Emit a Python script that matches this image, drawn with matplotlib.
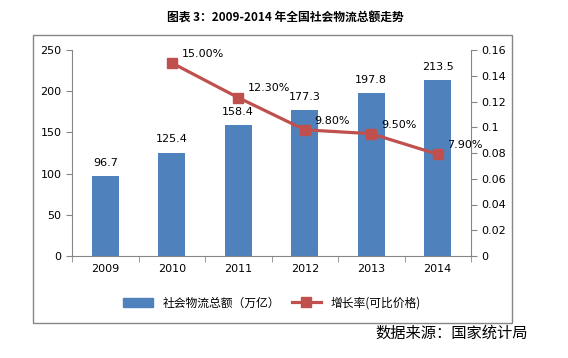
import matplotlib
matplotlib.use('Agg')
import matplotlib.pyplot as plt
from matplotlib.patches import Rectangle
from matplotlib.lines import Line2D
from matplotlib.patches import Patch

plt.rcParams['font.family'] = ['DejaVu Sans', 'Noto Sans CJK SC']

years = ['2009', '2010', '2011', '2012', '2013', '2014']
totals = [96.7, 125.4, 158.4, 177.3, 197.8, 213.5]
rate_years = ['2010', '2011', '2012', '2013', '2014']
rates = [0.15, 0.123, 0.098, 0.095, 0.079]
rate_labels = ['15.00%', '12.30%', '9.80%', '9.50%', '7.90%']

bar_color = '#4F81BD'
line_color = '#C0504D'
axis_gray = '#868686'

fig = plt.figure(figsize=(5.68, 3.58), dpi=100)
ax = fig.add_axes([72 / 568, 1 - 256 / 358, (471 - 72) / 568, (256 - 50) / 358])

x = list(range(len(years)))
ax.bar(x, totals, width=0.4, color=bar_color, zorder=2)
ax.set_xlim(-0.5, len(years) - 0.5)
ax.set_ylim(0, 250)
ax.set_yticks(range(0, 251, 50))
ax.set_xticks(x)
ax.set_xticklabels(years)
ax.set_xticks([i - 0.5 for i in range(len(years) + 1)], minor=True)
ax.tick_params(axis='x', which='major', length=0, labelsize=8, pad=6)
ax.tick_params(axis='x', which='minor', length=4, color=axis_gray)
ax.tick_params(axis='y', length=4, color=axis_gray, labelsize=8)
for v, t in zip(x, totals):
    ax.annotate(f'{t}', (v, t), xytext=(0, 6), textcoords='offset points',
                ha='center', va='bottom', fontsize=8)

ax2 = ax.twinx()
rx = [years.index(y) for y in rate_years]
ax2.plot(rx, rates, color=line_color, linewidth=2.3, marker='s', markersize=7, zorder=3)
ax2.set_ylim(0, 0.16)
ax2.set_yticks([0, 0.02, 0.04, 0.06, 0.08, 0.1, 0.12, 0.14, 0.16])
ax2.set_yticklabels(['0', '0.02', '0.04', '0.06', '0.08', '0.1', '0.12', '0.14', '0.16'])
ax2.tick_params(axis='y', length=4, color=axis_gray, labelsize=8)
for v, r, lab in zip(rx, rates, rate_labels):
    ax2.annotate(lab, (v, r), xytext=(7, 3), textcoords='offset points',
                 ha='left', va='bottom', fontsize=8)

for a in (ax, ax2):
    a.spines['top'].set_visible(False)
    for s in ('left', 'right', 'bottom'):
        a.spines[s].set_color(axis_gray)
ax.spines['right'].set_visible(False)
ax2.spines['left'].set_visible(False)
ax2.spines['bottom'].set_visible(False)

# outer frame
fig.patches.append(Rectangle((33 / 568, 1 - 323 / 358), (512 - 33) / 568, (323 - 35) / 358,
                             transform=fig.transFigure, fill=False, edgecolor=axis_gray,
                             linewidth=1))

handles = [Patch(color=bar_color),
           Line2D([0], [0], color=line_color, linewidth=2.3, marker='s', markersize=7)]
labels = ['社会物流总额（万亿）', '增长率(可比价格)']
fig.legend(handles, labels, loc='center', bbox_to_anchor=(272 / 568, 1 - 303 / 358),
           ncol=2, frameon=False, fontsize=8.5, handlelength=2.5, columnspacing=1,
           prop={'family': ['Noto Sans CJK SC', 'DejaVu Sans'], 'size': 8.5})

fig.text(285 / 568, 1 - 18 / 358, '图表 3：2009-2014 年全国社会物流总额走势',
         ha='center', va='center', fontsize=8.5, fontweight='bold',
         family=['Noto Sans CJK SC', 'DejaVu Sans'])
fig.text(452 / 568, 1 - 333 / 358, '数据来源：国家统计局', ha='center', va='center',
         fontsize=11, family=['Noto Sans CJK SC', 'DejaVu Sans'])

fig.savefig('out.png', dpi=100)
